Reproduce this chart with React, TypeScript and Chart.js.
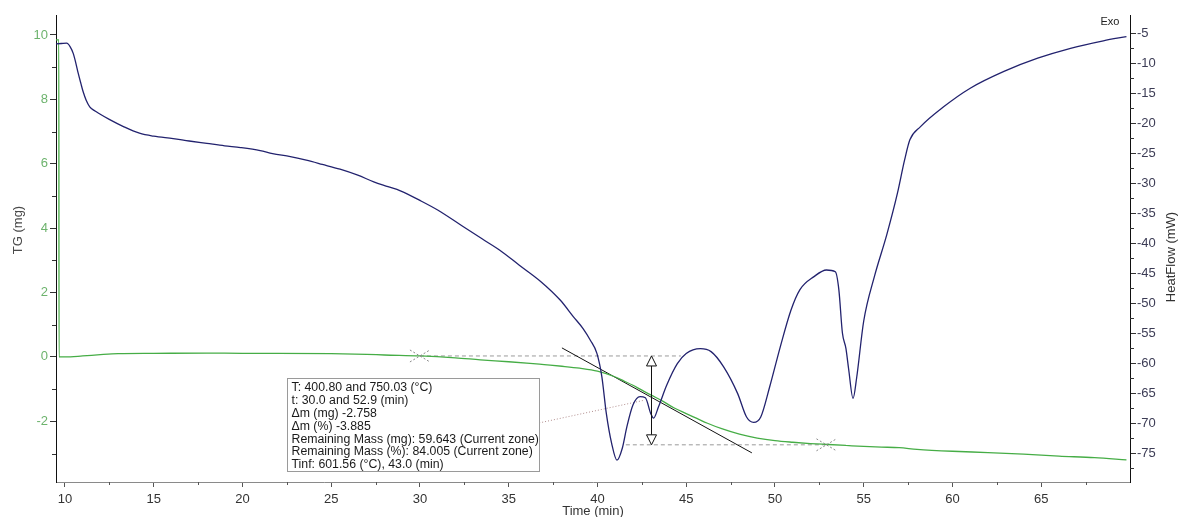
import React, { useEffect, useRef } from "react";
import { Chart, registerables } from "chart.js";

Chart.register(...registerables);

// ---- Heat flow (right axis, mW) ----
const hfTime = [
  9.5, 9.8, 10.1, 10.3, 10.47, 10.6, 10.75, 10.9, 11.03, 11.2, 11.4, 11.7, 11.97, 12.5, 13.3, 14.2, 15.0,
  16.1, 17.0, 18.0, 19.0, 19.9, 21.0, 21.7, 22.7, 23.6, 24.5, 25.5, 26.5, 27.4, 28.2, 28.9, 30.0, 31.0,
  32.3, 33.5, 34.5, 35.6, 36.8, 37.9, 38.65, 39.2, 39.6, 39.97, 40.25, 40.5, 40.8, 41.1, 41.4, 41.66,
  42.0, 42.4, 42.7, 43.0, 43.16, 43.44, 43.9, 44.5, 45.0, 45.8, 46.4, 47.1, 47.9, 48.4, 48.8, 49.2, 49.7,
  50.3, 50.9, 51.4, 52.2, 52.9, 53.4, 53.6, 53.8, 54.0, 54.15, 54.4, 54.6, 55.0, 55.6, 56.3, 56.9, 57.3,
  57.6, 58.2, 59.5, 61.0, 62.9, 64.8, 66.65, 68.5, 69.8,
];
const hfFlow = [
  -6.8, -6.75, -6.7, -7.3, -8.4, -9.8, -11.7, -13.4, -14.8, -16.2, -17.3, -18.0, -18.5, -19.4, -20.6, -21.7, -22.2,
  -22.6, -23.0, -23.4, -23.8, -24.1, -24.6, -25.1, -25.6, -26.2, -26.9, -27.7, -28.7, -29.8, -30.6, -31.3, -32.9, -34.5,
  -37.0, -39.3, -41.2, -43.7, -46.4, -49.5, -52.3, -54.3, -56.2, -58.4, -62.3, -68.4, -73.4, -76.2, -74.2, -70.6,
  -67.0, -65.6, -65.8, -68.4, -69.2, -67.3, -63.7, -60.1, -58.4, -57.6, -58.1, -60.6, -65.1, -69.0, -69.9, -69.0, -64.0,
  -57.3, -51.2, -47.8, -45.6, -44.5, -44.8, -47.8, -55.0, -57.6, -61.0, -65.9, -62.5, -53.0, -45.6, -38.6, -31.7, -26.2,
  -22.8, -20.6, -17.3, -14.2, -11.4, -9.2, -7.55, -6.3, -5.6,
];

// ---- TG (left axis, mg) ----
const tgTime = [
  9.5, 9.66, 9.67, 10.0, 11.0, 12.0, 13.0, 15.0, 18.0, 20.0, 22.0, 25.0, 27.0, 28.0, 30.0, 32.0, 33.4, 35.0,
  36.2, 37.0, 38.0, 39.0, 40.0, 40.9, 41.5, 42.0, 42.4, 43.0, 43.7, 44.3, 45.0, 45.6, 46.2, 47.0, 48.0, 49.0,
  50.0, 51.0, 52.0, 53.0, 54.0, 55.0, 56.0, 57.0, 58.0, 60.0, 62.0, 64.0, 66.0, 68.0, 69.8,
];
const tgMass = [
  9.85, 9.85, 0.0, 0.0, 0.03, 0.07, 0.1, 0.11, 0.12, 0.11, 0.11, 0.1, 0.08, 0.06, 0.03, -0.03, -0.09, -0.15,
  -0.2, -0.24, -0.29, -0.35, -0.44, -0.6, -0.75, -0.88, -1.0, -1.18, -1.38, -1.58, -1.76, -1.91, -2.06, -2.23, -2.4, -2.52,
  -2.6, -2.65, -2.69, -2.72, -2.75, -2.78, -2.8, -2.82, -2.87, -2.93, -2.97, -3.02, -3.08, -3.13, -3.2,
];

// ---- Axis ticks ----
const xTicks = [10, 15, 20, 25, 30, 35, 40, 45, 50, 55, 60, 65];
const xMinorTicks = [12.5, 17.5, 22.5, 27.5, 32.5, 37.5, 42.5, 47.5, 52.5, 57.5, 62.5, 67.5];
const tgTicks = [-2, 0, 2, 4, 6, 8, 10];
const tgMinorTicks = [-3, -1, 1, 3, 5, 7, 9];
const hfTicks = [-75, -70, -65, -60, -55, -50, -45, -40, -35, -30, -25, -20, -15, -10, -5];
const hfMinorTicks = [-77.5, -72.5, -67.5, -62.5, -57.5, -52.5, -47.5, -42.5, -37.5, -32.5, -27.5, -22.5, -17.5, -12.5, -7.5];

// ---- Step analysis annotation ----
const stepTimes = [30.0, 52.9];
const stepLevels = [0.03, -2.73];
const upperDashTime = [30.0, 44.7];
const lowerDashTime = [41.6, 52.9];
const tinfTime = 43.0;
const tangentTime = [38.0, 48.7];
const tangentMass = [0.28, -2.98];
const connectorTime = [36.72, 42.6];
const connectorMass = [-2.05, -1.35];
const boxAnchor = [22.5, -0.65];
const annotationLines = [
  "T: 400.80 and 750.03 (°C)",
  "t: 30.0 and 52.9 (min)",
  "Δm (mg) -2.758",
  "Δm (%) -3.885",
  "Remaining Mass (mg): 59.643 (Current zone)",
  "Remaining Mass (%): 84.005 (Current zone)",
  "Tinf: 601.56 (°C), 43.0 (min)",
];

const FONT = "'Liberation Sans', Arial, sans-serif";

const pairs = (xs: number[], ys: number[]) => xs.map((x, i) => ({ x, y: ys[i] }));

const annotPlugin = {
  id: "annot",
  afterDatasetsDraw(chart: any) {
    const { ctx } = chart;
    const x = chart.scales.x;
    const yT = chart.scales.yTG;
    ctx.save();

    // crosses at the step limits
    ctx.strokeStyle = "#8a8a8a";
    ctx.lineWidth = 1;
    ctx.setLineDash([2, 2]);
    stepTimes.forEach((t, i) => {
      const px = x.getPixelForValue(t);
      const py = yT.getPixelForValue(stepLevels[i]);
      ctx.beginPath();
      ctx.moveTo(px - 10, py - 6);
      ctx.lineTo(px + 10, py + 6);
      ctx.moveTo(px - 10, py + 6);
      ctx.lineTo(px + 10, py - 6);
      ctx.stroke();
    });
    ctx.setLineDash([]);

    // double arrow at Tinf
    const ax = Math.round(x.getPixelForValue(tinfTime)) + 0.5;
    const aTop = yT.getPixelForValue(stepLevels[0]);
    const aBot = yT.getPixelForValue(stepLevels[1]);
    ctx.strokeStyle = "#111";
    ctx.beginPath();
    ctx.moveTo(ax, aTop + 10);
    ctx.lineTo(ax, aBot - 10);
    ctx.stroke();
    ctx.fillStyle = "#fff";
    ctx.beginPath();
    ctx.moveTo(ax, aTop);
    ctx.lineTo(ax - 5, aTop + 10);
    ctx.lineTo(ax + 5, aTop + 10);
    ctx.closePath();
    ctx.fill();
    ctx.stroke();
    ctx.beginPath();
    ctx.moveTo(ax, aBot);
    ctx.lineTo(ax - 5, aBot - 10);
    ctx.lineTo(ax + 5, aBot - 10);
    ctx.closePath();
    ctx.fill();
    ctx.stroke();

    // annotation box
    const bx = Math.round(x.getPixelForValue(boxAnchor[0])) + 0.5;
    const by = Math.round(yT.getPixelForValue(boxAnchor[1])) + 0.5;
    const bw = 252;
    const bh = 93;
    ctx.fillStyle = "#fff";
    ctx.fillRect(bx, by, bw, bh);
    ctx.strokeStyle = "#9a9a9a";
    ctx.strokeRect(bx, by, bw, bh);
    ctx.fillStyle = "#1a1a1a";
    ctx.font = `12.3px ${FONT}`;
    ctx.textAlign = "left";
    ctx.textBaseline = "middle";
    annotationLines.forEach((s, i) => {
      ctx.fillText(s, bx + 4, by + 9.5 + i * 12.8);
    });

    ctx.restore();
  },
  afterDraw(chart: any) {
    const { ctx } = chart;
    const x = chart.scales.x;
    const yT = chart.scales.yTG;
    const yH = chart.scales.yHF;
    const area = chart.chartArea;
    ctx.save();
    ctx.lineWidth = 1;
    // minor ticks
    ctx.strokeStyle = "#555";
    ctx.beginPath();
    xMinorTicks.forEach((v) => {
      const px = Math.round(x.getPixelForValue(v)) + 0.5;
      ctx.moveTo(px, area.bottom);
      ctx.lineTo(px, area.bottom + 3);
    });
    ctx.stroke();
    ctx.strokeStyle = "#333";
    ctx.beginPath();
    tgMinorTicks.forEach((v) => {
      const py = Math.round(yT.getPixelForValue(v)) + 0.5;
      ctx.moveTo(area.left - 4, py);
      ctx.lineTo(area.left, py);
    });
    hfMinorTicks.forEach((v) => {
      const py = Math.round(yH.getPixelForValue(v)) + 0.5;
      ctx.moveTo(area.right, py);
      ctx.lineTo(area.right + 4, py);
    });
    ctx.stroke();

    // axis titles (vertical)
    ctx.font = `13px ${FONT}`;
    ctx.textAlign = "center";
    ctx.textBaseline = "middle";
    ctx.fillStyle = "#4a4a4a";
    ctx.save();
    ctx.translate(18, 230);
    ctx.rotate(-Math.PI / 2);
    ctx.fillText("TG (mg)", 0, 0);
    ctx.restore();
    ctx.save();
    ctx.fillStyle = "#333";
    ctx.translate(1171, 257);
    ctx.rotate(-Math.PI / 2);
    ctx.fillText("HeatFlow (mW)", 0, 0);
    ctx.restore();

    // Exo label
    ctx.font = `11px ${FONT}`;
    ctx.fillStyle = "#222";
    ctx.fillText("Exo", 1110, 22);
    ctx.restore();
  },
};

export default function App() {
  const ref = useRef<HTMLCanvasElement | null>(null);

  useEffect(() => {
    if (!ref.current) return;
    const chart = new Chart(ref.current, {
      type: "scatter",
      data: {
        datasets: [
          {
            label: "HeatFlow",
            data: pairs(hfTime, hfFlow),
            yAxisID: "yHF",
            showLine: true,
            borderColor: "#22226e",
            borderWidth: 1.3,
            pointRadius: 0,
            cubicInterpolationMode: "monotone",
          } as any,
          {
            label: "TG",
            data: pairs(tgTime, tgMass),
            yAxisID: "yTG",
            showLine: true,
            borderColor: "#46ad46",
            borderWidth: 1.3,
            pointRadius: 0,
            cubicInterpolationMode: "monotone",
          } as any,
          {
            label: "tangent",
            data: pairs(tangentTime, tangentMass),
            yAxisID: "yTG",
            showLine: true,
            borderColor: "#111",
            borderWidth: 1,
            pointRadius: 0,
          },
          {
            label: "upper",
            data: pairs(upperDashTime, [stepLevels[0], stepLevels[0]]),
            yAxisID: "yTG",
            showLine: true,
            borderColor: "#9a9a9a",
            borderWidth: 1,
            borderDash: [4, 3],
            pointRadius: 0,
          },
          {
            label: "lower",
            data: pairs(lowerDashTime, [stepLevels[1], stepLevels[1]]),
            yAxisID: "yTG",
            showLine: true,
            borderColor: "#9a9a9a",
            borderWidth: 1,
            borderDash: [4, 3],
            pointRadius: 0,
          },
          {
            label: "connector",
            data: pairs(connectorTime, connectorMass),
            yAxisID: "yTG",
            showLine: true,
            borderColor: "#b08c8c",
            borderWidth: 1,
            borderDash: [1, 2],
            pointRadius: 0,
          },
        ],
      },
      options: {
        animation: false,
        responsive: false,
        maintainAspectRatio: false,
        devicePixelRatio: 1,
        layout: { padding: { top: 15, left: 0, right: 0, bottom: 0 } },
        plugins: { legend: { display: false }, tooltip: { enabled: false } },
        scales: {
          x: {
            type: "linear",
            min: 9.5,
            max: 70,
            afterBuildTicks: (s: any) => {
              s.ticks = xTicks.map((v) => ({ value: v }));
            },
            afterFit: (s: any) => {
              s.height = 35;
            },
            ticks: {
              autoSkip: false,
              maxRotation: 0,
              padding: 5,
              color: "#333",
              font: { family: FONT, size: 13 },
              callback: (v: any) => String(v),
            },
            grid: { drawOnChartArea: false, tickLength: 5, tickColor: "#555" },
            border: { color: "#8a8a8a", width: 1 },
            title: {
              display: true,
              text: "Time (min)",
              color: "#333",
              font: { family: FONT, size: 13 },
              padding: { top: 0, bottom: -2 },
            },
          },
          yTG: {
            type: "linear",
            position: "left",
            min: -3.885,
            max: 10.62,
            afterBuildTicks: (s: any) => {
              s.ticks = tgTicks.map((v) => ({ value: v }));
            },
            afterFit: (s: any) => {
              s.width = 56;
            },
            ticks: {
              autoSkip: false,
              padding: 2,
              color: "#6db36d",
              font: { family: FONT, size: 13 },
              callback: (v: any) => String(v),
            },
            grid: { drawOnChartArea: false, tickLength: 6, tickColor: "#333" },
            border: { color: "#111", width: 1 },
          },
          yHF: {
            type: "linear",
            position: "right",
            min: -79.83,
            max: -2.0,
            afterBuildTicks: (s: any) => {
              s.ticks = hfTicks.map((v) => ({ value: v }));
            },
            afterFit: (s: any) => {
              s.width = 51;
            },
            ticks: {
              autoSkip: false,
              padding: 1,
              color: "#3c3c55",
              font: { family: FONT, size: 13 },
              callback: (v: any) => String(v),
            },
            grid: { drawOnChartArea: false, tickLength: 6, tickColor: "#333" },
            border: { color: "#111", width: 1 },
          },
        },
      },
      plugins: [annotPlugin],
    });
    return () => chart.destroy();
  }, []);

  return (
    <div style={{ position: "fixed", left: 0, top: 0, width: 1181, height: 517, background: "#fff" }}>
      <canvas ref={ref} width={1181} height={517} style={{ display: "block", width: 1181, height: 517 }} />
    </div>
  );
}
